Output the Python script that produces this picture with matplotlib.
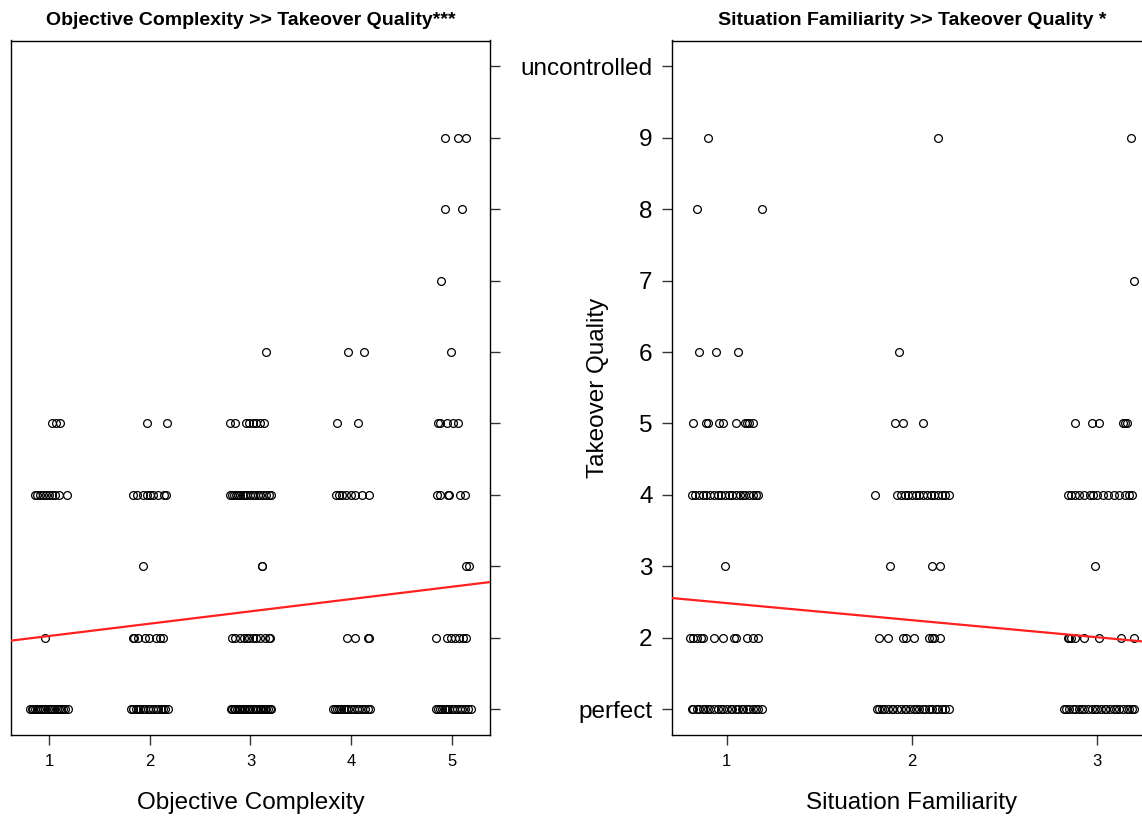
import matplotlib
matplotlib.use("Agg")
import matplotlib.pyplot as plt

plt.rcParams['font.family'] = ['Liberation Sans', 'DejaVu Sans']

# ---------------- data ----------------
quality_levels = [1, 2, 3, 4, 5, 6, 7, 8, 9, 10]
quality_labels = ["perfect", "2", "3", "4", "5", "6", "7", "8", "9", "uncontrolled"]

oc_ticks = [1, 2, 3, 4, 5]
sf_ticks = [1, 2, 3]

# Objective Complexity (jittered x) for each takeover-quality level
oc_q1 = [0.81, 0.83, 0.84, 0.86, 0.88, 0.90, 0.92, 0.94, 0.96, 0.99, 1.01, 1.03, 1.05, 1.08, 1.10, 1.12, 1.14, 1.16, 1.19,
         1.81, 1.83, 1.86, 1.88, 1.90, 1.93, 1.95, 1.98, 2.00, 2.03, 2.06, 2.08, 2.11, 2.13, 2.15, 2.18,
         2.81, 2.82, 2.84, 2.85, 2.87, 2.89, 2.90, 2.92, 2.94, 2.95, 2.97, 2.99, 3.00, 3.02, 3.04, 3.05, 3.07,
         3.09, 3.10, 3.12, 3.14, 3.15, 3.17, 3.19, 3.20,
         3.82, 3.84, 3.86, 3.88, 3.90, 3.93, 3.95, 3.97, 4.00, 4.03, 4.06, 4.08, 4.11, 4.14, 4.17, 4.19,
         4.84, 4.86, 4.88, 4.90, 4.93, 4.95, 4.97, 5.00, 5.02, 5.05, 5.08, 5.10, 5.13, 5.16, 5.19]
oc_q2 = [0.96,
         1.83, 1.84, 1.88, 1.95, 1.99, 2.06, 2.10, 2.13,
         2.82, 2.85, 2.90, 2.94, 2.97, 2.99, 3.02, 3.05, 3.09, 3.14, 3.18, 3.19,
         3.96, 4.04, 4.17, 4.18,
         4.84, 4.95, 4.99, 5.03, 5.07, 5.11, 5.14]
oc_q3 = [1.93, 3.11, 3.11, 5.14, 5.17]
oc_q4 = [0.86, 0.88, 0.91, 0.94, 0.97, 1.00, 1.03, 1.06, 1.10, 1.18,
         1.83, 1.87, 1.93, 1.97, 2.00, 2.03, 2.08, 2.14, 2.16,
         2.80, 2.82, 2.84, 2.86, 2.88, 2.90, 2.93, 2.95, 2.97, 3.00, 3.02, 3.04, 3.07, 3.09, 3.12, 3.15, 3.18, 3.20,
         3.85, 3.88, 3.91, 3.95, 4.00, 4.04, 4.11, 4.18,
         4.85, 4.88, 4.96, 4.97, 5.08, 5.13]
oc_q5 = [1.03, 1.07, 1.11,
         1.97, 2.17,
         2.80, 2.85, 2.96, 2.99, 3.02, 3.05, 3.09, 3.13,
         3.86, 4.07,
         4.86, 4.88, 4.95, 5.01, 5.06]
oc_q6 = [3.15, 3.97, 4.13, 4.99]
oc_q7 = [4.89]
oc_q8 = [4.93, 5.10]
oc_q9 = [4.93, 5.06, 5.14]
oc_q10 = []

# Situation Familiarity (jittered x) for each takeover-quality level
sf_q1 = [0.81, 0.82, 0.84, 0.85, 0.87, 0.88, 0.90, 0.91, 0.93, 0.95, 0.97, 0.98, 1.00, 1.02, 1.03, 1.05, 1.06,
         1.08, 1.09, 1.11, 1.12, 1.14, 1.16, 1.17, 1.19,
         1.81, 1.82, 1.84, 1.85, 1.87, 1.89, 1.90, 1.92, 1.94, 1.96, 1.97, 1.99, 2.01, 2.02, 2.04, 2.06, 2.07,
         2.09, 2.11, 2.13, 2.14, 2.16, 2.18, 2.20,
         2.82, 2.83, 2.85, 2.87, 2.88, 2.90, 2.92, 2.93, 2.95, 2.97, 2.99, 3.00, 3.02, 3.04, 3.05, 3.07, 3.09,
         3.10, 3.12, 3.14, 3.16, 3.17, 3.19, 3.20]
sf_q2 = [0.80, 0.82, 0.84, 0.86, 0.87, 0.93, 0.98, 1.04, 1.05, 1.11, 1.14, 1.17,
         1.82, 1.87, 1.95, 1.97, 2.01, 2.09, 2.11, 2.12, 2.15,
         2.84, 2.85, 2.86, 2.88, 2.93, 3.01, 3.13, 3.20]
sf_q3 = [0.99, 1.88, 2.11, 2.15, 2.99]
sf_q4 = [0.81, 0.83, 0.85, 0.87, 0.89, 0.91, 0.93, 0.95, 0.97, 0.99, 1.01, 1.03, 1.05, 1.07, 1.09, 1.10,
         1.12, 1.14, 1.16, 1.17,
         1.80, 1.92, 1.94, 1.96, 1.98, 2.00, 2.02, 2.04, 2.06, 2.08, 2.10, 2.12, 2.14, 2.16, 2.18, 2.20,
         2.84, 2.86, 2.88, 2.90, 2.93, 2.96, 2.98, 3.00, 3.03, 3.06, 3.09, 3.12, 3.15, 3.17, 3.19]
sf_q5 = [0.82, 0.89, 0.90, 0.96, 0.98, 1.05, 1.10, 1.11, 1.12, 1.14,
         1.91, 1.95, 2.06,
         2.88, 2.97, 3.01, 3.14, 3.15, 3.16]
sf_q6 = [0.85, 0.94, 1.06, 1.93]
sf_q7 = [3.20]
sf_q8 = [0.84, 1.19]
sf_q9 = [0.90, 2.14, 3.18]
sf_q10 = []

# fitted regression lines (intercept, slope)
oc_fit = [1.853, 0.1725]
sf_fit = [2.725, -0.239]

titles = ["Objective Complexity >> Takeover Quality***", "Situation Familiarity >> Takeover Quality *"]
xlabels = ["Objective Complexity", "Situation Familiarity"]
ylabel = "Takeover Quality"

# ---------------- figure ----------------
W, H = 1142, 818
fig = plt.figure(figsize=(W / 100, H / 100), dpi=100)

def px_rect(x0, x1, ytop, ybot):
    return [x0 / W, 1 - ybot / H, (x1 - x0) / W, (ybot - ytop) / H]

axL = fig.add_axes(px_rect(11, 490, 40.5, 735))
axR = fig.add_axes(px_rect(672, 1152, 40.5, 735))

oc_rows = [oc_q1, oc_q2, oc_q3, oc_q4, oc_q5, oc_q6, oc_q7, oc_q8, oc_q9, oc_q10]
sf_rows = [sf_q1, sf_q2, sf_q3, sf_q4, sf_q5, sf_q6, sf_q7, sf_q8, sf_q9, sf_q10]

panels = [
    (axL, oc_rows, oc_fit, oc_ticks, (0.624, 5.376)),
    (axR, sf_rows, sf_fit, sf_ticks, (0.704, 3.296)),
]

for i, (ax, rows, fit, xt, xl) in enumerate(panels):
    for lvl, xs in zip(quality_levels, rows):
        if xs:
            ax.plot(xs, [lvl] * len(xs), linestyle='none', marker='o', ms=5.6,
                    mfc='none', mec='black', mew=0.9, zorder=2)
    ax.axline((0, fit[0]), slope=fit[1], color='#ff2020', lw=1.6, zorder=3)
    ax.set_xlim(*xl)
    ax.set_ylim(0.64, 10.36)
    ax.set_xticks(xt)
    ax.set_xticklabels([str(t) for t in xt])
    ax.set_yticks(quality_levels)
    ax.set_yticklabels(quality_labels)
    ax.tick_params(axis='x', direction='out', length=7, width=1.0, pad=7,
                   labelsize=12, color='#333333')
    ax.tick_params(axis='y', direction='out', length=7, width=1.0, pad=7,
                   labelsize=17.5, color='#333333')
    for sp in ax.spines.values():
        sp.set_linewidth(1.0)
        sp.set_color('black')
    ax.set_title(titles[i], fontsize=14, fontweight='bold', pad=11)
    ax.set_xlabel(xlabels[i], fontsize=17.5)
    ax.xaxis.label.set_va('center')
    ax.xaxis.set_label_coords(0.5, (735 - 803) / 694.5)

# left panel: y ticks on the right, no labels
axL.yaxis.tick_right()
axL.tick_params(axis='y', labelright=False, labelleft=False)

# right panel: y ticks on the left with labels, y label
axR.set_ylabel(ylabel, fontsize=17.5)
axR.yaxis.label.set_va('center')
axR.yaxis.set_label_coords((598 - 672) / 480, 0.5)

fig.savefig("out.png", dpi=100)
